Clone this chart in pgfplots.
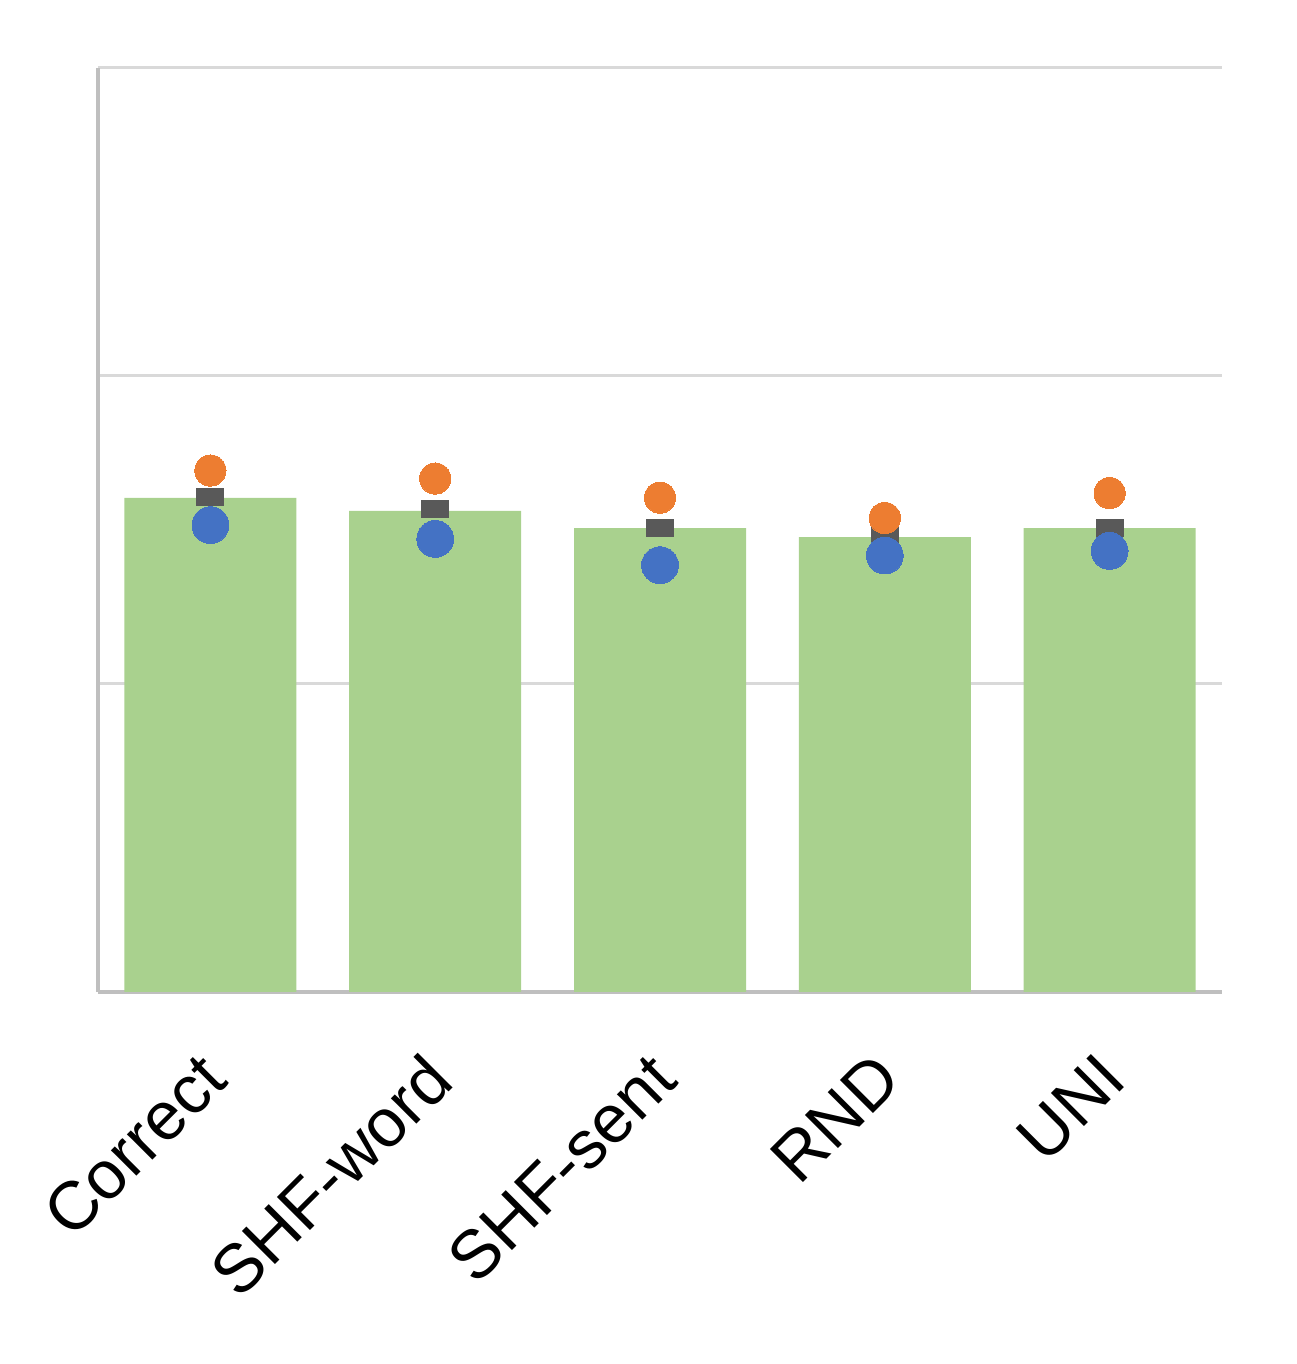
\documentclass[border=0pt]{standalone}
\usepackage{fontspec}
\setmainfont{Liberation Sans}
\usepackage{pgfplots}
\pgfplotsset{compat=1.18}
\definecolor{barg}{HTML}{A9D18E}
\definecolor{dotor}{HTML}{ED7D31}
\definecolor{dotbl}{HTML}{4472C4}
\definecolor{sqgr}{HTML}{595959}
\definecolor{gridc}{HTML}{D9D9D9}
\definecolor{axc}{HTML}{BFBFBF}
\begin{document}
\begin{tikzpicture}
\begin{axis}[
  scale only axis,
  width=281pt, height=231pt,
  xmin=-0.5, xmax=4.5,
  ymin=0, ymax=3,
  axis x line=bottom, axis y line=left,
  axis line style={draw=axc, line width=1pt, -},
  xtick={0,1,2,3,4},
  xticklabels={Correct,SHF-word,SHF-sent,RND,UNI},
  ytick={0,1,2,3},
  yticklabels={,,,},
  major tick length=0pt,
  ymajorgrids,
  grid style={draw=gridc, line width=0.75pt},
  xticklabel style={rotate=45, anchor=north east, inner sep=0pt, xshift=-12.5pt, yshift=-7.5pt, font=\fontsize{17}{20}\selectfont},
  clip=false,
]
\addplot[ybar, bar width=43pt, bar shift=0pt, fill=barg, draw=none]
  coordinates {(0,1.604) (1,1.562) (2,1.506) (3,1.477) (4,1.506)};
\addplot[only marks, color=sqgr, mark=square*, mark size=2.125pt, mark options={xscale=1.59, fill=sqgr, draw=sqgr, line width=0pt}]
  coordinates {(0,1.607) (1,1.567) (2,1.505) (3,1.480) (4,1.508)};
\addplot[only marks, color=dotor, mark=*, mark size=3.9pt, mark options={fill=dotor, draw=dotor, line width=0pt}]
  coordinates {(0,1.693) (1,1.667) (2,1.605) (3,1.539) (4,1.620)};
\addplot[only marks, color=dotbl, mark=*, mark size=4.6pt, mark options={fill=dotbl, draw=dotbl, line width=0pt}]
  coordinates {(0,1.516) (1,1.471) (2,1.386) (3,1.417) (4,1.432)};
\end{axis}
\path (current axis.south west) ++(-24.5pt,-93pt) coordinate (bbsw);
\path (current axis.north east) ++(18.5pt,17pt) coordinate (bbne);
\path (bbsw) rectangle (bbne);
\end{tikzpicture}
\end{document}
